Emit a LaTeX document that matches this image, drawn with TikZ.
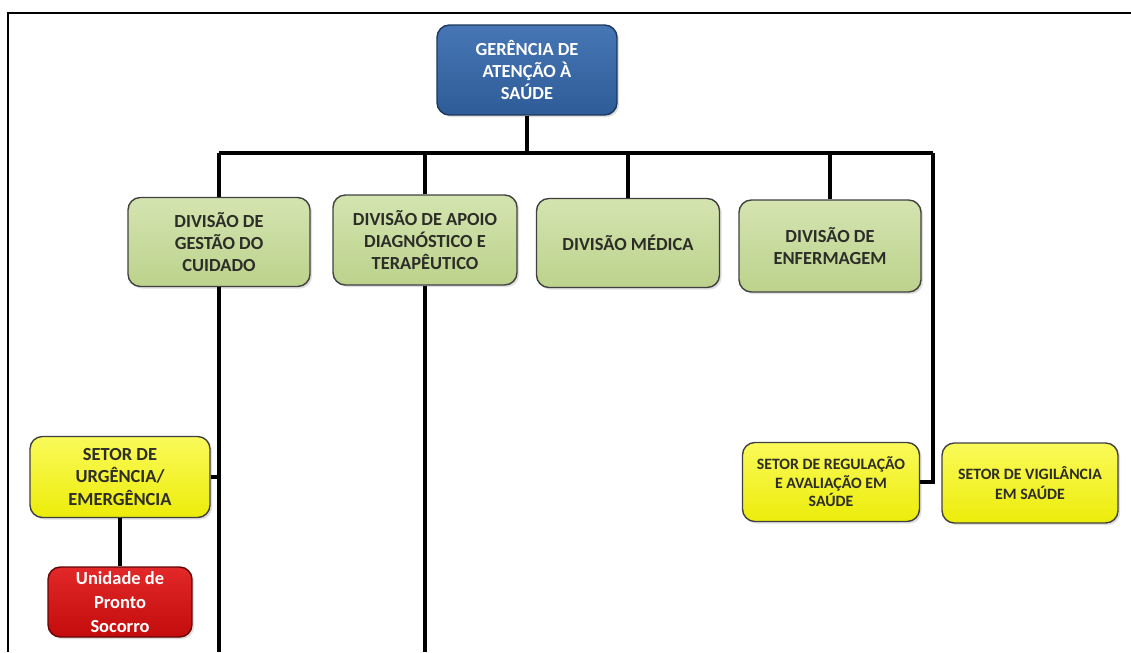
\documentclass[tikz,border=0pt]{standalone}
\usepackage{fontspec}
\setmainfont{Carlito}
\usepackage{xcolor}
\usepackage{tikz}
\usetikzlibrary{positioning, calc, shadows}
\definecolor{gerblue}{RGB}{46, 92, 152}
\definecolor{gerblueup}{RGB}{70, 118, 180}
\definecolor{divgreen}{RGB}{188, 210, 140}
\definecolor{divgreenup}{RGB}{212, 228, 176}
\definecolor{setyellow}{RGB}{236, 236, 10}
\definecolor{setyellowup}{RGB}{250, 250, 90}
\definecolor{psred}{RGB}{196, 12, 12}
\definecolor{psredup}{RGB}{226, 40, 40}
\definecolor{txtgrey}{RGB}{45, 45, 40}

\tikzset{
  box/.style={rectangle, rounded corners=7pt, draw=black!75, line width=0.8pt,
    align=center, inner sep=2pt,
    drop shadow={opacity=0.25, shadow xshift=1.2pt, shadow yshift=-1.2pt}},
  gerbox/.style={box, top color=gerblueup, bottom color=gerblue, draw=gerblue!60!black,
    text=white, font=\bfseries\fontsize{10.5}{12.5}\selectfont},
  divbox/.style={box, top color=divgreenup, bottom color=divgreen,
    text=txtgrey, font=\bfseries\fontsize{10.5}{12.5}\selectfont},
  setbox/.style={box, top color=setyellowup, bottom color=setyellow,
    text=txtgrey, font=\bfseries\fontsize{10.5}{13}\selectfont},
  psbox/.style={box, top color=psredup, bottom color=psred, draw=psred!50!black,
    text=white, font=\bfseries\fontsize{10.5}{13.5}\selectfont},
  link/.style={line width=2pt, black}
}

\begin{document}
\begin{tikzpicture}[x=0.02cm, y=-0.02cm]
  \useasboundingbox (0,0) rectangle (1131,652);
  % Frame
  \draw[line width=1.2pt] (8,652) -- (8,13) -- (1131,13);

  % Boxes
  \node[gerbox, minimum width=3.6cm, minimum height=1.8cm] (ger) at (527,70)
    {GERÊNCIA DE\\ ATENÇÃO À\\ SAÚDE};
  \node[divbox, minimum width=3.64cm, minimum height=1.78cm] (gestao) at (219,242)
    {DIVISÃO DE\\ GESTÃO DO\\ CUIDADO};
  \node[divbox, minimum width=3.68cm, minimum height=1.8cm] (apoio) at (425,240)
    {DIVISÃO DE APOIO\\ DIAGNÓSTICO E\\ TERAPÊUTICO};
  \node[divbox, minimum width=3.66cm, minimum height=1.78cm] (medica) at (628,243)
    {DIVISÃO MÉDICA};
  \node[divbox, minimum width=3.64cm, minimum height=1.84cm] (enferm) at (830,246)
    {DIVISÃO DE\\ ENFERMAGEM};
  \node[setbox, minimum width=3.6cm, minimum height=1.62cm] (urg) at (120,477)
    {SETOR DE\\ URGÊNCIA/\\ EMERGÊNCIA};
  \node[psbox, minimum width=2.88cm, minimum height=1.4cm] (ps) at (120,602)
    {Unidade de\\ Pronto\\ Socorro};
  \node[setbox, minimum width=3.54cm, minimum height=1.58cm,
    font=\bfseries\fontsize{9}{10.5}\selectfont] (reg) at (831,482)
    {SETOR DE REGULAÇÃO\\ E AVALIAÇÃO EM\\ SAÚDE};
  \node[setbox, minimum width=3.52cm, minimum height=1.6cm,
    font=\bfseries\fontsize{9}{11}\selectfont] (vig) at (1030,483)
    {SETOR DE VIGILÂNCIA\\ EM SAÚDE};

  % Connectors
  \coordinate (busL) at (219,153);
  \coordinate (busR) at (933,153);
  \draw[link] (ger.south) -- (ger.south |- busL);
  \draw[link] (busL) -- (busR);
  \foreach \d in {gestao, apoio, medica, enferm}
    \draw[link] (\d.north) -- (\d.north |- busL);
  \draw[link] (busR) -- (busR |- reg.east) -- (reg.east);
  \coordinate (gEnd) at (219,652);
  \coordinate (aEnd) at (425,652);
  \draw[link] (gestao.south) -- (gEnd);
  \draw[link] (apoio.south) -- (aEnd);
  \draw[link] (urg.east) -- (urg.east -| gEnd);
  \draw[link] (urg.south) -- (ps.north);
\end{tikzpicture}
\end{document}
